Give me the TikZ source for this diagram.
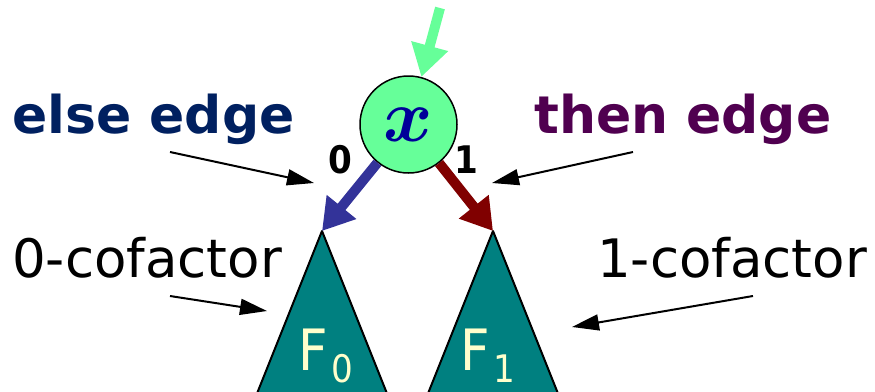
\documentclass[tikz,border=0pt]{standalone}
\usepackage{fontspec}
\setmainfont{DejaVu Sans}
\newfontfamily\condfont{DejaVu Sans Condensed}
\usepackage{bm}
\usetikzlibrary{arrows.meta}
\definecolor{bddgreen}{RGB}{102, 255, 153}
\definecolor{bddblue}{RGB}{51, 51, 153}
\definecolor{bddred}{RGB}{128, 0, 0}
\definecolor{bddteal}{RGB}{0, 128, 128}
\definecolor{bddcream}{RGB}{255, 255, 204}
\definecolor{elsenavy}{RGB}{0, 32, 96}
\definecolor{thenpurple}{RGB}{80, 0, 80}
\definecolor{varblue}{RGB}{0, 0, 153}

\begin{document}
\begin{tikzpicture}[
    x=1pt, y=-1pt,
    varnode/.style={circle, draw=black, line width=1.5pt, fill=bddgreen,
                    minimum size=97pt, inner sep=0pt, text=varblue},
    edgelbl/.style={font=\condfont\bfseries\fontsize{38}{38}\selectfont, inner sep=0pt},
    bigtxt/.style={anchor=base west, inner sep=0pt, font=\fontsize{53}{53}\selectfont},
    cofac/.style={draw=black, line width=2pt, line join=round, fill=bddteal},
    flbl/.style={anchor=base west, inner sep=0pt, text=bddcream,
                 font=\condfont\fontsize{57}{57}\selectfont},
    inarrow/.style={-{Triangle[length=32pt, width=36pt]}, line width=10pt, color=bddgreen},
    zeroarrow/.style={-{Triangle[length=31pt, width=36pt]}, line width=10pt, color=bddblue},
    onearrow/.style={-{Triangle[length=31pt, width=36pt]}, line width=10pt, color=bddred},
    ptr/.style={-{Triangle[length=27pt, width=16pt]}, line width=2pt}
]
    \useasboundingbox (0,0) rectangle (875,391);

    % the two sub-functions
    \coordinate (t0) at (322,231);
    \coordinate (t1) at (493,231);
    \draw[cofac] (t0) -- ++(-68,170) -- ++(136,0) -- cycle;
    \draw[cofac] (t1) -- ++(-68,170) -- ++(136,0) -- cycle;
    \node[flbl] (f0) at (298,370) {F\hspace{4pt}\raisebox{-12pt}{\fontsize{38}{38}\selectfont 0}};
    \node[flbl] (f1) at (460,370) {F\hspace{4pt}\raisebox{-12pt}{\fontsize{38}{38}\selectfont 1}};

    % decision node and its edges
    \node[varnode] (x) at (408.5,124.5) {\scalebox{7.5}{$\bm{x}$}};
    \coordinate (in) at (440,8);
    \draw[inarrow] (in) -- (x);
    \draw[zeroarrow] (x) -- (t0);
    \draw[onearrow] (x) -- (t1);
    \node[edgelbl] (zero) at (340,160) {0};
    \node[edgelbl] (one) at (466,160) {1};

    % callouts
    \node[bigtxt, font=\bfseries\fontsize{52}{52}\selectfont, text=elsenavy] (else) at (12,133) {else edge};
    \node[bigtxt, font=\bfseries\fontsize{52}{52}\selectfont, text=thenpurple] (then) at (534,133) {then edge};
    \node[bigtxt] (cof0) at (12,277) {0-cofactor};
    \node[bigtxt] (cof1) at (597,277) {1-cofactor};

    \coordinate (elsefrom) at (170,152);
    \coordinate (elseto) at (314,183);
    \coordinate (thenfrom) at (633,152);
    \coordinate (thento) at (492,183);
    \coordinate (cof0from) at (170,296);
    \coordinate (cof0to) at (267,311);
    \coordinate (cof1from) at (753,296);
    \coordinate (cof1to) at (572,327);
    \draw[ptr] (elsefrom) -- (elseto);
    \draw[ptr] (thenfrom) -- (thento);
    \draw[ptr] (cof0from) -- (cof0to);
    \draw[ptr] (cof1from) -- (cof1to);
\end{tikzpicture}
\end{document}
